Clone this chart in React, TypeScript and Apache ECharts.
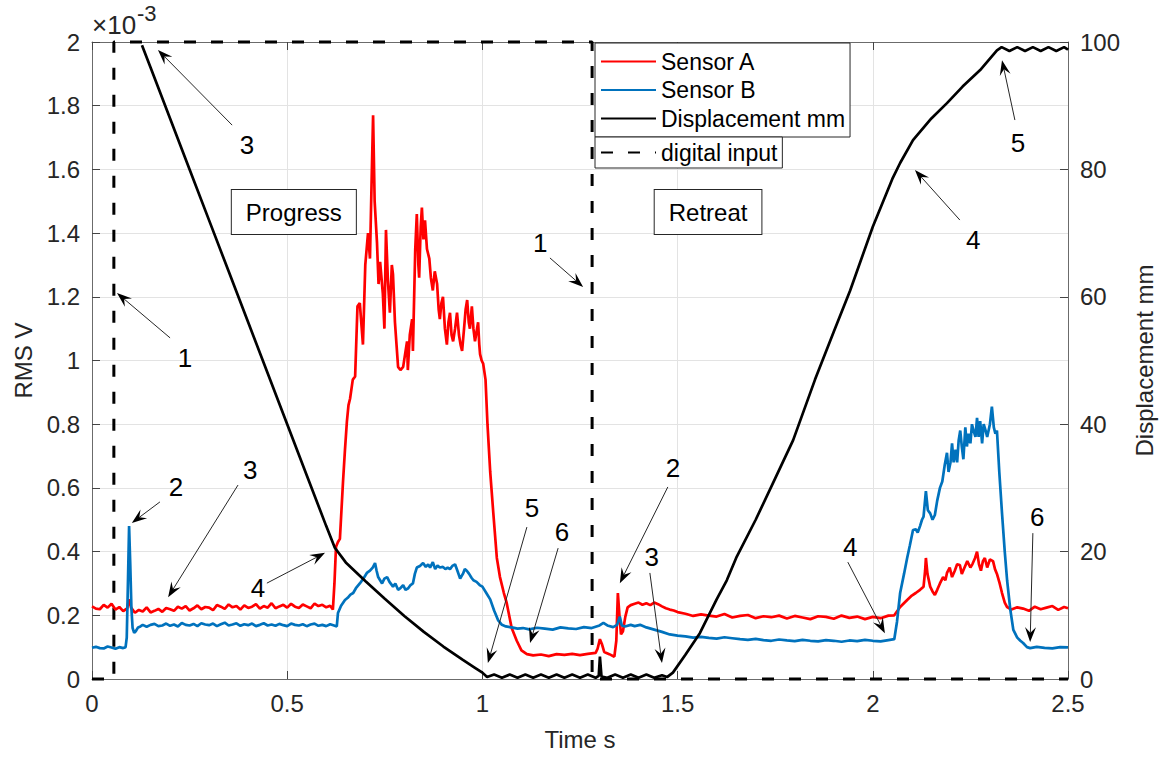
import React, { useEffect, useRef } from "react";
import * as echarts from "echarts";

// ---------- data (time in s, RMS in units of 1e-3 V, displacement in mm) ----------
const sensorA: [number, number][] = [
  [0, 0.228], [0.01, 0.221], [0.02, 0.219], [0.03, 0.233], [0.04, 0.224], [0.05, 0.236], [0.06, 0.218],
  [0.07, 0.226], [0.08, 0.213], [0.09, 0.222], [0.095, 0.25], [0.1, 0.224], [0.11, 0.208], [0.12, 0.217],
  [0.13, 0.212], [0.14, 0.225], [0.15, 0.209], [0.16, 0.214], [0.17, 0.22], [0.18, 0.211], [0.19, 0.223],
  [0.2, 0.219], [0.21, 0.214], [0.22, 0.227], [0.23, 0.221], [0.24, 0.229], [0.25, 0.215], [0.26, 0.222],
  [0.27, 0.231], [0.28, 0.219], [0.29, 0.226], [0.3, 0.224], [0.31, 0.216], [0.32, 0.232], [0.33, 0.227],
  [0.34, 0.22], [0.35, 0.234], [0.36, 0.225], [0.37, 0.229], [0.38, 0.218], [0.39, 0.231], [0.4, 0.223],
  [0.41, 0.227], [0.42, 0.235], [0.43, 0.221], [0.44, 0.229], [0.45, 0.224], [0.46, 0.238], [0.47, 0.222],
  [0.48, 0.228], [0.49, 0.233], [0.5, 0.224], [0.51, 0.236], [0.52, 0.227], [0.53, 0.223], [0.54, 0.234],
  [0.55, 0.228], [0.56, 0.222], [0.57, 0.237], [0.58, 0.229], [0.59, 0.233], [0.6, 0.225], [0.61, 0.23],
  [0.617, 0.218], [0.621, 0.3], [0.625, 0.415], [0.63, 0.43], [0.635, 0.44], [0.643, 0.62], [0.648, 0.72],
  [0.653, 0.81], [0.657, 0.86], [0.661, 0.88], [0.668, 0.94], [0.674, 0.95], [0.68, 1.17], [0.686, 1.18],
  [0.694, 1.05], [0.7, 1.3], [0.707, 1.4], [0.712, 1.32], [0.716, 1.55], [0.72, 1.77], [0.724, 1.5],
  [0.73, 1.37], [0.734, 1.24], [0.738, 1.31], [0.745, 1.21], [0.749, 1.1], [0.753, 1.41], [0.758, 1.25],
  [0.763, 1.15], [0.768, 1.3], [0.771, 1.27], [0.776, 1.12], [0.78, 1.05], [0.784, 0.98], [0.79, 0.97],
  [0.797, 0.98], [0.802, 1.02], [0.807, 1.06], [0.809, 0.97], [0.814, 1.08], [0.82, 1.13], [0.822, 1.03],
  [0.828, 1.35], [0.832, 1.46], [0.836, 1.3], [0.838, 1.26], [0.842, 1.42], [0.845, 1.48], [0.849, 1.38],
  [0.853, 1.44], [0.858, 1.35], [0.864, 1.32], [0.868, 1.26], [0.873, 1.22], [0.878, 1.28], [0.884, 1.24],
  [0.888, 1.16], [0.891, 1.13], [0.895, 1.18], [0.899, 1.2], [0.904, 1.1], [0.909, 1.05], [0.913, 1.12],
  [0.917, 1.15], [0.921, 1.08], [0.925, 1.06], [0.93, 1.1], [0.935, 1.15], [0.94, 1.08], [0.944, 1.05],
  [0.948, 1.03], [0.953, 1.1], [0.957, 1.16], [0.961, 1.19], [0.965, 1.12], [0.968, 1.1], [0.973, 1.17],
  [0.977, 1.1], [0.981, 1.06], [0.985, 1.09], [0.989, 1.12], [0.992, 1.05], [0.994, 1.02], [0.998, 1.0],
  [1.002, 0.99], [1.008, 0.94], [1.013, 0.8], [1.02, 0.65], [1.028, 0.52], [1.037, 0.38], [1.045, 0.32],
  [1.055, 0.27], [1.062, 0.24], [1.075, 0.16], [1.088, 0.12], [1.1, 0.09], [1.114, 0.078], [1.13, 0.074],
  [1.15, 0.077], [1.17, 0.072], [1.19, 0.078], [1.21, 0.076], [1.23, 0.079], [1.25, 0.075], [1.27, 0.079],
  [1.29, 0.082], [1.295, 0.095], [1.301, 0.125], [1.306, 0.11], [1.312, 0.085], [1.325, 0.078],
  [1.338, 0.07], [1.343, 0.12], [1.347, 0.27], [1.351, 0.2], [1.355, 0.14], [1.36, 0.15], [1.366, 0.195],
  [1.372, 0.225], [1.38, 0.232], [1.39, 0.236], [1.4, 0.24], [1.41, 0.233], [1.42, 0.238], [1.43, 0.232],
  [1.44, 0.24], [1.45, 0.235], [1.46, 0.228], [1.47, 0.222], [1.48, 0.218], [1.49, 0.215], [1.5, 0.21],
  [1.52, 0.205], [1.54, 0.198], [1.56, 0.203], [1.58, 0.199], [1.6, 0.196], [1.62, 0.204], [1.64, 0.193],
  [1.66, 0.198], [1.68, 0.201], [1.7, 0.191], [1.72, 0.197], [1.74, 0.194], [1.76, 0.199], [1.78, 0.19],
  [1.8, 0.198], [1.82, 0.193], [1.84, 0.188], [1.86, 0.197], [1.88, 0.195], [1.9, 0.189], [1.92, 0.199],
  [1.94, 0.192], [1.96, 0.196], [1.98, 0.188], [2.0, 0.195], [2.02, 0.191], [2.04, 0.199], [2.055, 0.2],
  [2.07, 0.226], [2.088, 0.248], [2.1, 0.262], [2.11, 0.27], [2.121, 0.28], [2.13, 0.29], [2.134, 0.34],
  [2.136, 0.38], [2.14, 0.33], [2.147, 0.29], [2.153, 0.275], [2.159, 0.264], [2.165, 0.28], [2.172, 0.3],
  [2.18, 0.32], [2.186, 0.31], [2.19, 0.333], [2.197, 0.35], [2.203, 0.32], [2.21, 0.34], [2.216, 0.36],
  [2.223, 0.358], [2.228, 0.33], [2.235, 0.35], [2.242, 0.37], [2.25, 0.35], [2.255, 0.36], [2.262, 0.38],
  [2.267, 0.4], [2.272, 0.36], [2.277, 0.34], [2.282, 0.37], [2.287, 0.38], [2.293, 0.35], [2.3, 0.375],
  [2.308, 0.37], [2.313, 0.345], [2.318, 0.33], [2.325, 0.3], [2.331, 0.27], [2.338, 0.24], [2.344, 0.226],
  [2.355, 0.218], [2.37, 0.225], [2.385, 0.221], [2.4, 0.214], [2.415, 0.227], [2.43, 0.219], [2.445, 0.224],
  [2.46, 0.229], [2.475, 0.217], [2.49, 0.226], [2.5, 0.222],
];

const sensorB: [number, number][] = [
  [0, 0.098], [0.01, 0.101], [0.02, 0.097], [0.03, 0.096], [0.04, 0.102], [0.05, 0.099], [0.06, 0.095],
  [0.07, 0.1], [0.08, 0.097], [0.086, 0.1], [0.089, 0.13], [0.092, 0.3], [0.095, 0.48], [0.098, 0.36],
  [0.101, 0.22], [0.104, 0.16], [0.108, 0.145], [0.112, 0.15], [0.118, 0.162], [0.124, 0.165], [0.13, 0.17],
  [0.14, 0.164], [0.15, 0.17], [0.16, 0.173], [0.17, 0.166], [0.18, 0.168], [0.19, 0.174], [0.2, 0.167],
  [0.21, 0.171], [0.22, 0.165], [0.23, 0.176], [0.24, 0.17], [0.25, 0.168], [0.26, 0.173], [0.27, 0.166],
  [0.28, 0.175], [0.29, 0.171], [0.3, 0.169], [0.31, 0.174], [0.32, 0.166], [0.33, 0.172], [0.34, 0.177],
  [0.35, 0.168], [0.36, 0.171], [0.37, 0.175], [0.38, 0.167], [0.39, 0.172], [0.4, 0.169], [0.41, 0.174],
  [0.42, 0.166], [0.43, 0.17], [0.44, 0.175], [0.45, 0.168], [0.46, 0.171], [0.47, 0.167], [0.48, 0.173],
  [0.49, 0.169], [0.5, 0.166], [0.51, 0.174], [0.52, 0.17], [0.53, 0.168], [0.54, 0.172], [0.55, 0.166],
  [0.56, 0.171], [0.57, 0.174], [0.58, 0.167], [0.59, 0.17], [0.6, 0.166], [0.61, 0.172], [0.62, 0.168],
  [0.627, 0.165], [0.63, 0.207], [0.638, 0.23], [0.648, 0.248], [0.655, 0.255], [0.662, 0.265],
  [0.669, 0.27], [0.676, 0.285], [0.686, 0.3], [0.695, 0.315], [0.704, 0.333], [0.712, 0.34], [0.719, 0.35],
  [0.725, 0.364], [0.729, 0.34], [0.733, 0.32], [0.738, 0.31], [0.743, 0.3], [0.749, 0.315], [0.756, 0.32],
  [0.762, 0.305], [0.771, 0.29], [0.777, 0.3], [0.784, 0.28], [0.79, 0.285], [0.797, 0.295], [0.803, 0.28],
  [0.81, 0.285], [0.816, 0.295], [0.822, 0.3], [0.827, 0.33], [0.832, 0.35], [0.84, 0.355], [0.848, 0.364],
  [0.855, 0.352], [0.861, 0.36], [0.866, 0.35], [0.873, 0.367], [0.879, 0.345], [0.885, 0.356],
  [0.891, 0.35], [0.899, 0.352], [0.905, 0.345], [0.911, 0.35], [0.917, 0.345], [0.923, 0.355], [0.93, 0.36],
  [0.936, 0.34], [0.943, 0.315], [0.95, 0.33], [0.955, 0.345], [0.96, 0.34], [0.966, 0.33], [0.972, 0.318],
  [0.977, 0.31], [0.985, 0.305], [0.993, 0.295], [1.0, 0.29], [1.01, 0.27], [1.02, 0.25], [1.03, 0.215],
  [1.04, 0.185], [1.05, 0.17], [1.06, 0.165], [1.075, 0.162], [1.09, 0.158], [1.104, 0.16], [1.12, 0.156],
  [1.14, 0.161], [1.16, 0.158], [1.18, 0.155], [1.2, 0.162], [1.22, 0.159], [1.24, 0.157], [1.26, 0.163],
  [1.28, 0.16], [1.3, 0.168], [1.31, 0.176], [1.32, 0.168], [1.335, 0.163], [1.345, 0.17], [1.352, 0.196],
  [1.357, 0.168], [1.365, 0.165], [1.38, 0.17], [1.39, 0.166], [1.404, 0.17], [1.42, 0.162], [1.44, 0.155],
  [1.46, 0.148], [1.48, 0.14], [1.5, 0.136], [1.52, 0.134], [1.54, 0.13], [1.56, 0.132], [1.58, 0.129],
  [1.6, 0.127], [1.62, 0.131], [1.64, 0.128], [1.66, 0.125], [1.68, 0.123], [1.7, 0.126], [1.72, 0.122],
  [1.74, 0.12], [1.76, 0.124], [1.78, 0.121], [1.8, 0.119], [1.82, 0.123], [1.84, 0.12], [1.86, 0.118],
  [1.88, 0.122], [1.9, 0.12], [1.92, 0.117], [1.94, 0.121], [1.96, 0.119], [1.98, 0.123], [2.0, 0.12],
  [2.02, 0.118], [2.04, 0.122], [2.055, 0.125], [2.062, 0.18], [2.07, 0.27], [2.08, 0.33], [2.088, 0.38],
  [2.095, 0.42], [2.103, 0.468], [2.11, 0.47], [2.115, 0.46], [2.121, 0.48], [2.126, 0.5], [2.13, 0.51],
  [2.136, 0.59], [2.141, 0.53], [2.147, 0.52], [2.153, 0.5], [2.159, 0.515], [2.165, 0.56], [2.172, 0.6],
  [2.178, 0.62], [2.184, 0.67], [2.19, 0.71], [2.194, 0.65], [2.199, 0.68], [2.203, 0.74], [2.207, 0.68],
  [2.212, 0.72], [2.216, 0.68], [2.22, 0.75], [2.224, 0.78], [2.228, 0.73], [2.232, 0.69], [2.237, 0.79],
  [2.241, 0.73], [2.245, 0.77], [2.25, 0.74], [2.254, 0.8], [2.258, 0.78], [2.263, 0.76], [2.267, 0.82],
  [2.271, 0.76], [2.275, 0.81], [2.28, 0.74], [2.284, 0.8], [2.289, 0.78], [2.293, 0.76], [2.3, 0.8],
  [2.305, 0.855], [2.31, 0.79], [2.314, 0.77], [2.318, 0.78], [2.324, 0.65], [2.331, 0.52], [2.338, 0.4],
  [2.344, 0.31], [2.352, 0.22], [2.36, 0.154], [2.37, 0.13], [2.378, 0.12], [2.385, 0.113], [2.395, 0.1],
  [2.403, 0.097], [2.42, 0.101], [2.44, 0.098], [2.46, 0.096], [2.48, 0.1], [2.5, 0.099],
];

const displacementMm: [number, number][] = [
  [0.128, 99.5], [0.15, 96], [0.2, 88], [0.25, 80], [0.3, 72], [0.35, 64], [0.4, 56], [0.45, 48],
  [0.5, 40], [0.55, 32], [0.6, 24], [0.622, 20.6], [0.65, 18.3], [0.7, 15.4], [0.75, 12.6], [0.8, 9.9],
  [0.85, 7.4], [0.9, 5.1], [0.95, 3.0], [0.98, 1.8], [1.0, 1.0], [1.012, 0.3], [1.03, 0.7], [1.05, 0.2],
  [1.07, 0.7], [1.09, 0.2], [1.11, 0.7], [1.13, 0.2], [1.15, 0.7], [1.17, 0.2], [1.19, 0.7], [1.21, 0.2],
  [1.23, 0.7], [1.25, 0.2], [1.27, 0.7], [1.29, 0.2], [1.298, 0.5], [1.301, 3.5], [1.305, 0.4], [1.32, 0.2],
  [1.34, 0.7], [1.36, 0.2], [1.38, 0.7], [1.4, 0.2], [1.42, 0.7], [1.44, 0.2], [1.46, 0.6], [1.473, 0.3],
  [1.488, 1.0], [1.52, 3.8], [1.557, 7.2], [1.6, 12.5], [1.626, 15.5], [1.65, 19], [1.7, 25], [1.75, 31.5],
  [1.796, 37.5], [1.852, 47], [1.9, 54.5], [1.942, 61], [2.0, 71], [2.05, 78.5], [2.07, 81], [2.103, 84.6],
  [2.15, 88], [2.19, 90.4], [2.23, 93], [2.275, 95.6], [2.318, 98.7], [2.33, 99.2], [2.35, 98.6],
  [2.37, 99.2], [2.39, 98.6], [2.41, 99.2], [2.43, 98.6], [2.45, 99.2], [2.47, 98.6], [2.49, 99.2], [2.5, 98.8],
];

const digitalInput: [number, number][] = [
  [0, 0], [0.056, 0], [0.056, 2], [1.281, 2], [1.281, 0], [2.5, 0],
];

// numbered arrow annotations: label position, arrow tail and tip (time s, RMS 1e-3 V)
const annotations: { label: string; at: [number, number]; tail: [number, number]; tip: [number, number] }[] = [
  { label: "3", at: [0.397, 1.677], tail: [0.359, 1.739], tip: [0.169, 1.975] },
  { label: "1", at: [0.238, 1.008], tail: [0.2, 1.071], tip: [0.064, 1.212] },
  { label: "2", at: [0.215, 0.603], tail: [0.174, 0.556], tip: [0.102, 0.49] },
  { label: "3", at: [0.405, 0.656], tail: [0.374, 0.609], tip: [0.195, 0.257] },
  { label: "4", at: [0.425, 0.286], tail: [0.448, 0.301], tip: [0.597, 0.396] },
  { label: "1", at: [1.148, 1.369], tail: [1.173, 1.322], tip: [1.258, 1.231] },
  { label: "5", at: [1.127, 0.537], tail: [1.114, 0.477], tip: [1.014, 0.05] },
  { label: "6", at: [1.204, 0.462], tail: [1.194, 0.411], tip: [1.122, 0.113] },
  { label: "2", at: [1.488, 0.662], tail: [1.475, 0.603], tip: [1.352, 0.301] },
  { label: "3", at: [1.434, 0.383], tail: [1.429, 0.333], tip: [1.46, 0.05] },
  { label: "4", at: [2.257, 1.378], tail: [2.223, 1.441], tip: [2.108, 1.598] },
  { label: "5", at: [2.372, 1.683], tail: [2.364, 1.755], tip: [2.331, 1.943] },
  { label: "4", at: [1.942, 0.414], tail: [1.936, 0.367], tip: [2.031, 0.144] },
  { label: "6", at: [2.421, 0.509], tail: [2.41, 0.458], tip: [2.403, 0.116] },
];

const phaseLabels: { label: string; at: [number, number] }[] = [
  { label: "Progress", at: [0.517, 1.466] },
  { label: "Retreat", at: [1.578, 1.466] },
];

const FONT = "'Liberation Sans', Arial, Helvetica, sans-serif";
const AXIS_COLOR = "#6b6b6b";
const TEXT_COLOR = "#262626";
const FS = 24;

export default function App() {
  const ref = useRef<HTMLDivElement>(null);

  useEffect(() => {
    if (!ref.current) return;
    const chart = echarts.init(ref.current, null, { renderer: "svg" });

    const axisTick = { show: true, inside: true, length: 8, lineStyle: { color: "#444", width: 1 } };
    const axisLine = { show: true, onZero: false, lineStyle: { color: AXIS_COLOR, width: 1 } };
    const axisLabel = { color: TEXT_COLOR, fontSize: FS, fontFamily: FONT, margin: 12 };

    const legendCommon = {
      orient: "vertical",
      left: 595,
      itemWidth: 55,
      itemHeight: 3,
      backgroundColor: "#fff",
      borderColor: "#262626",
      borderWidth: 1,
      borderRadius: 0,
      selectedMode: false,
      itemStyle: { opacity: 0 },
      textStyle: { fontSize: 23, color: "#000", fontFamily: FONT },
    };

    const option: any = {
      animation: false,
      backgroundColor: "#fff",
      textStyle: { fontFamily: FONT },
      grid: { left: 92, right: 96, top: 42, bottom: 79, containLabel: false },
      legend: [
        {
          ...legendCommon,
          data: ["Sensor A", "Sensor B", "Displacement mm"],
          top: 43,
          padding: [7, 5, 7, 5],
          itemGap: 5.5,
        },
        {
          ...legendCommon,
          data: ["digital input"],
          top: 137,
          padding: [4, 5, 4, 5],
        },
      ],
      xAxis: [
        {
          type: "value",
          min: 0,
          max: 2.5,
          interval: 0.5,
          name: "Time s",
          nameLocation: "middle",
          nameGap: 48,
          nameTextStyle: { fontSize: FS, color: TEXT_COLOR, fontFamily: FONT },
          axisLine,
          axisTick,
          axisLabel,
          splitLine: { show: true, lineStyle: { color: "#e3e3e3", width: 1 } },
        },
        {
          type: "value",
          position: "top",
          min: 0,
          max: 2.5,
          interval: 0.5,
          axisLine,
          axisTick,
          axisLabel: { show: false },
          splitLine: { show: false },
        },
      ],
      yAxis: [
        {
          type: "value",
          min: 0,
          max: 2,
          interval: 0.2,
          name: "RMS V",
          nameLocation: "middle",
          nameGap: 54,
          nameTextStyle: { fontSize: FS, color: TEXT_COLOR, fontFamily: FONT },
          axisLine,
          axisTick,
          axisLabel,
          splitLine: { show: true, lineStyle: { color: "#e3e3e3", width: 1 } },
        },
        {
          type: "value",
          min: 0,
          max: 100,
          interval: 20,
          position: "right",
          name: "Displacement mm",
          nameLocation: "middle",
          nameGap: 64,
          nameRotate: 90,
          nameTextStyle: { fontSize: FS, color: TEXT_COLOR, fontFamily: FONT },
          axisLine,
          axisTick,
          axisLabel,
          splitLine: { show: false },
        },
      ],
      series: [
        {
          name: "Sensor A",
          type: "line",
          data: sensorA,
          symbol: "none",
          z: 3,
          lineStyle: { color: "#ff0000", width: 2.7 },
          itemStyle: { color: "#ff0000" },
        },
        {
          name: "Sensor B",
          type: "line",
          data: sensorB,
          symbol: "none",
          z: 3,
          lineStyle: { color: "#0072bd", width: 2.7 },
          itemStyle: { color: "#0072bd" },
        },
        {
          name: "Displacement mm",
          type: "line",
          yAxisIndex: 1,
          data: displacementMm,
          symbol: "none",
          z: 4,
          lineStyle: { color: "#000", width: 2.7 },
          itemStyle: { color: "#000" },
        },
        {
          name: "digital input",
          type: "line",
          data: digitalInput,
          symbol: "none",
          z: 2,
          clip: false,
          lineStyle: { color: "#000", width: 3, type: [12, 15] },
          itemStyle: { color: "#000" },
        },
      ],
    };

    chart.setOption(option);

    const toPx = (p: [number, number]) =>
      chart.convertToPixel({ xAxisIndex: 0, yAxisIndex: 0 }, p) as number[];

    const elements: any[] = [];
    annotations.forEach((a) => {
      const [tx, ty] = toPx(a.tail);
      const [hx, hy] = toPx(a.tip);
      const dx = hx - tx;
      const dy = hy - ty;
      const len = Math.sqrt(dx * dx + dy * dy) || 1;
      const ux = dx / len;
      const uy = dy / len;
      const nx = -uy;
      const ny = ux;
      const L = 15;
      const W = 5.5;
      const notch = 0.62 * L;
      elements.push({
        type: "line",
        shape: { x1: tx, y1: ty, x2: hx - ux * notch, y2: hy - uy * notch },
        style: { stroke: "#262626", lineWidth: 1 },
        z: 10,
      });
      elements.push({
        type: "polygon",
        shape: {
          points: [
            [hx, hy],
            [hx - ux * L + nx * W, hy - uy * L + ny * W],
            [hx - ux * notch, hy - uy * notch],
            [hx - ux * L - nx * W, hy - uy * L - ny * W],
          ],
        },
        style: { fill: "#000" },
        z: 10,
      });
      const [lx, ly] = toPx(a.at);
      elements.push({
        type: "text",
        x: lx,
        y: ly,
        style: {
          text: a.label,
          fontSize: 26,
          fontFamily: FONT,
          fill: "#000",
          align: "center",
          verticalAlign: "middle",
        },
        z: 10,
      });
    });

    phaseLabels.forEach((p) => {
      const [px, py] = toPx(p.at);
      elements.push({
        type: "text",
        x: px,
        y: py,
        style: {
          text: p.label,
          fontSize: FS,
          fontFamily: FONT,
          fill: "#000",
          align: "center",
          verticalAlign: "middle",
          backgroundColor: "#fff",
          borderColor: "#262626",
          borderWidth: 1,
          padding: [10, 14, 10, 14],
        },
        z: 10,
      });
    });

    // exponent of the left axis
    elements.push({
      type: "text",
      left: 92,
      top: 12,
      style: { text: "×10", fontSize: 26, fontFamily: FONT, fill: TEXT_COLOR },
    });
    elements.push({
      type: "text",
      left: 137,
      top: 2,
      style: { text: "-3", fontSize: 22, fontFamily: FONT, fill: TEXT_COLOR },
    });

    chart.setOption({ graphic: elements });

    return () => chart.dispose();
  }, []);

  return (
    <div
      ref={ref}
      style={{ position: "fixed", left: 0, top: 0, width: 1164, height: 758, background: "#fff" }}
    />
  );
}
